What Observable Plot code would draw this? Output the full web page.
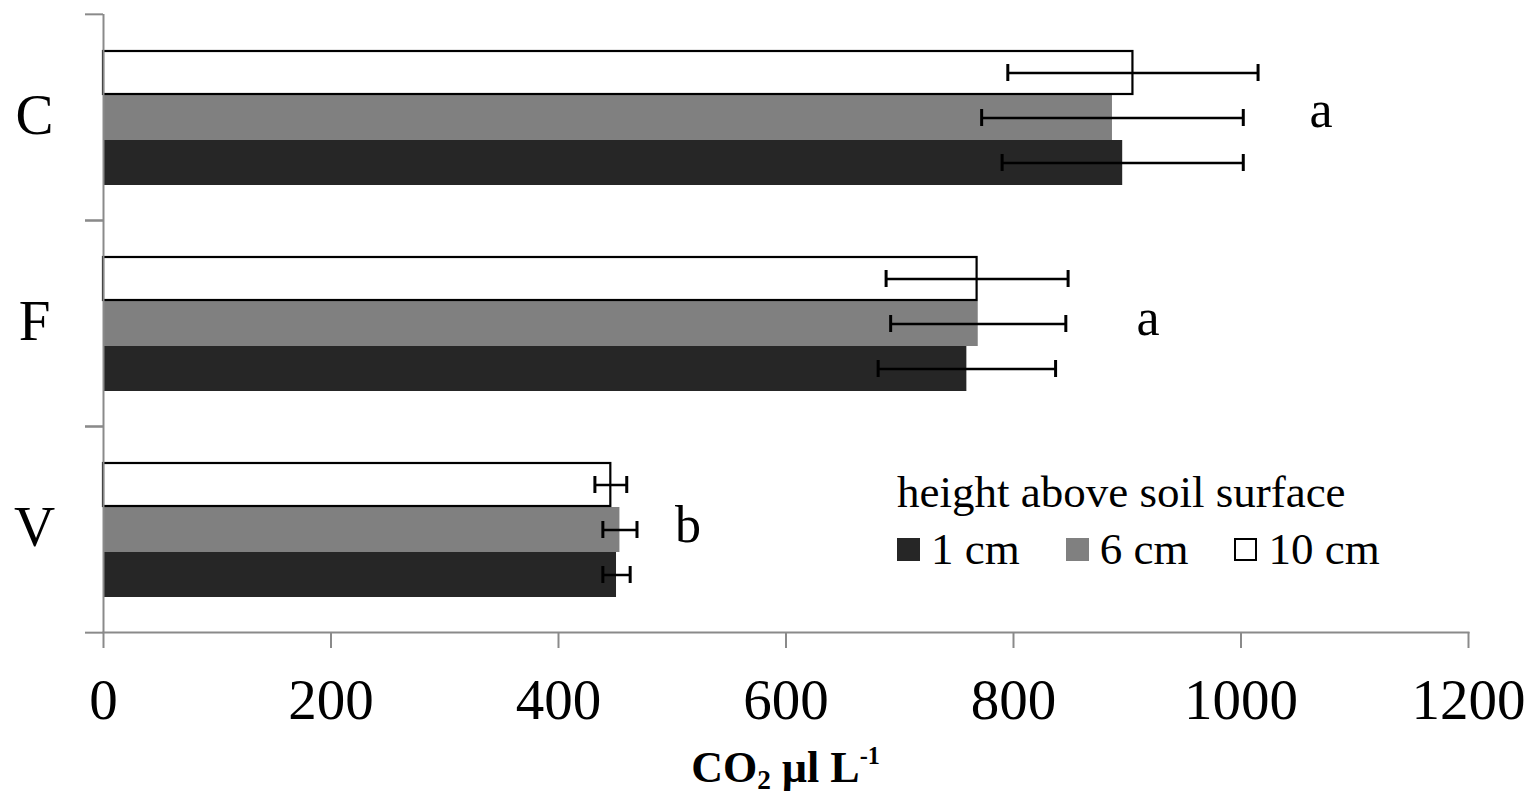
<!DOCTYPE html>
<html><head><meta charset="utf-8">
<script src="https://cdn.jsdelivr.net/npm/d3@7"></script>
<script src="https://cdn.jsdelivr.net/npm/@observablehq/plot@0.6"></script>
<style>
body{margin:0;background:#fff;}
#wrap{position:relative;width:1533px;height:802px;font-family:"Liberation Serif","Times New Roman",serif;color:#000;}
#legend{position:absolute;left:897px;top:470px;font-size:45px;line-height:1;}
#legend .row{display:flex;align-items:center;margin-top:12px;}
#legend .item{display:flex;align-items:center;margin-right:46px;}
#legend .sw{width:23px;height:23px;box-sizing:border-box;margin-right:11px;}
#xtitle{position:absolute;left:0;width:1533px;text-align:center;top:746px;font-size:44px;line-height:1;font-weight:bold;padding-left:38px;box-sizing:border-box;}
#xtitle sub{font-size:0.62em;vertical-align:-0.25em;line-height:0;}
#xtitle sup{font-size:0.55em;vertical-align:0.75em;line-height:0;}
</style></head><body><div id="wrap"></div>
<script>
// ---- data ----
const categories = ["C", "F", "V"];
const seriesNames = ["10 cm", "6 cm", "1 cm"];      // top to bottom within each group
const mean1cm  = [896, 759, 451];
const mean6cm  = [887, 769, 454];
const mean10cm = [905, 768, 446];
const err1cm   = [106, 78, 12];
const err6cm   = [115, 77, 15];
const err10cm  = [110, 80, 14];
const letters  = ["a", "a", "b"];
const xTicks   = [0, 200, 400, 600, 800, 1000, 1200];
const legendTitle = "height above soil surface";
const legendItems = ["1 cm", "6 cm", "10 cm"];

// ---- build table ----
const bySeries = {"1 cm": [mean1cm, err1cm], "6 cm": [mean6cm, err6cm], "10 cm": [mean10cm, err10cm]};
const rows = [];
categories.forEach((c, i) => {
  seriesNames.forEach(s => {
    const [m, e] = bySeries[s];
    rows.push({cat: c, series: s, value: m[i], lo: m[i] - e[i], hi: m[i] + e[i]});
  });
});
const letterRows = categories.map((c, i) => ({
  cat: c, text: letters[i],
  x: d3.max(rows.filter(r => r.cat === c), r => r.hi)
}));

const W = 1533, H = 802, mL = 103, mR = 65, mT = 13, mB = 170;
const halfBand = (H - mT - mB) / categories.length / 2;
const gray = "#8a8a8a";
const colors = {"10 cm": "#ffffff", "6 cm": "#808080", "1 cm": "#262626"};
const serif = "Liberation Serif, Times New Roman, serif";

const chart = Plot.plot({
  width: W, height: H,
  marginLeft: mL, marginRight: mR, marginTop: mT, marginBottom: mB,
  style: {fontFamily: serif, background: "#fff", color: "#000"},
  x: {domain: [0, 1200], axis: null},
  y: {domain: seriesNames, paddingInner: 0, paddingOuter: 0.742, axis: null},
  fy: {domain: categories, padding: 0, axis: null},
  color: {domain: seriesNames, range: seriesNames.map(s => colors[s])},
  marks: [
    // bars
    Plot.barX(rows.filter(r => r.series !== "10 cm"), {fy: "cat", y: "series", x: "value", fill: "series"}),
    Plot.barX(rows.filter(r => r.series === "10 cm"), {fy: "cat", y: "series", x: "value", fill: "#fff", stroke: "#000", strokeWidth: 2.2, insetTop: 1, insetBottom: 1}),
    // error bars
    Plot.ruleY(rows, {fy: "cat", y: "series", x1: "lo", x2: "hi", stroke: "#000", strokeWidth: 2.5}),
    Plot.tickX(rows, {fy: "cat", y: "series", x: "lo", stroke: "#000", strokeWidth: 3, insetTop: 14, insetBottom: 14}),
    Plot.tickX(rows, {fy: "cat", y: "series", x: "hi", stroke: "#000", strokeWidth: 3, insetTop: 14, insetBottom: 14}),
    // axes lines
    Plot.ruleX([0], {stroke: gray, strokeWidth: 2}),
    Plot.frame({anchor: "bottom", facetAnchor: "bottom", stroke: gray, strokeWidth: 2}),
    Plot.axisFy({anchor: "left", label: null, tickSize: 18, tickFormat: () => "", stroke: gray, strokeWidth: 2, dy: -halfBand}),
    Plot.axisFy(["V"], {anchor: "left", label: null, tickSize: 18, tickFormat: () => "", stroke: gray, strokeWidth: 2, dy: halfBand}),
    Plot.axisX({ticks: xTicks, tickSize: 16, stroke: gray, strokeWidth: 2, tickPadding: 30, fontSize: 57, fill: "#000", label: null, tickFormat: d => String(d)}),
    // category labels
    Plot.text(categories, {fy: d => d, text: d => d, frameAnchor: "left", textAnchor: "middle", dx: -69, dy: -2, fontSize: 57, fill: "#000"}),
    // significance letters
    Plot.text(letterRows.filter(d => d.cat === "C"), {fy: "cat", y: () => "6 cm", x: "x", text: "text", dx: 63, dy: -8, fontSize: 52}),
    Plot.text(letterRows.filter(d => d.cat === "F"), {fy: "cat", y: () => "6 cm", x: "x", text: "text", dx: 80, dy: -6, fontSize: 52}),
    Plot.text(letterRows.filter(d => d.cat === "V"), {fy: "cat", y: () => "6 cm", x: "x", text: "text", dx: 51, dy: -5, fontSize: 52})
  ]
});

const wrap = document.getElementById("wrap");
wrap.appendChild(chart);

// legend (inside plot area)
const lg = document.createElement("div");
lg.id = "legend";
const t = document.createElement("div");
t.textContent = legendTitle;
lg.appendChild(t);
const row = document.createElement("div");
row.className = "row";
const swatchStyle = {"1 cm": "background:#262626;", "6 cm": "background:#808080;", "10 cm": "background:#fff;border:2px solid #000;"};
legendItems.forEach(s => {
  const it = document.createElement("div");
  it.className = "item";
  const sw = document.createElement("span");
  sw.className = "sw";
  sw.style.cssText = swatchStyle[s];
  const lab = document.createElement("span");
  lab.textContent = s;
  it.appendChild(sw); it.appendChild(lab);
  row.appendChild(it);
});
lg.appendChild(row);
wrap.appendChild(lg);

// x-axis title
const xt = document.createElement("div");
xt.id = "xtitle";
xt.innerHTML = "CO<sub>2</sub> µl L<sup>-1</sup>";
wrap.appendChild(xt);
</script>
</body></html>
